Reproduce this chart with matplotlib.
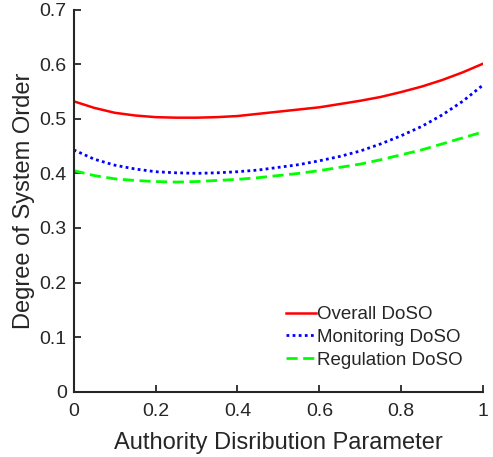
import numpy as np
from matplotlib import pyplot as plt

plt.rcParams['font.family'] = ['Liberation Sans', 'DejaVu Sans']

# authority distribution parameter
alpha = [0.00, 0.05, 0.10, 0.15, 0.20, 0.25, 0.30, 0.35, 0.40, 0.45, 0.50,
         0.55, 0.60, 0.65, 0.70, 0.75, 0.80, 0.85, 0.90, 0.95, 1.00]

# degree of system order
overall = [0.532, 0.520, 0.511, 0.506, 0.503, 0.502, 0.502, 0.503, 0.505, 0.509, 0.513,
           0.517, 0.521, 0.527, 0.533, 0.540, 0.549, 0.559, 0.571, 0.585, 0.601]
monitoring = [0.443, 0.426, 0.415, 0.408, 0.403, 0.401, 0.400, 0.401, 0.403, 0.406, 0.411,
              0.416, 0.423, 0.431, 0.441, 0.454, 0.469, 0.486, 0.507, 0.532, 0.562]
regulation = [0.405, 0.396, 0.390, 0.387, 0.385, 0.384, 0.385, 0.387, 0.389, 0.392, 0.396,
              0.400, 0.405, 0.411, 0.417, 0.425, 0.434, 0.443, 0.454, 0.465, 0.476]

xticks = [0, 0.2, 0.4, 0.6, 0.8, 1]
yticks = [0, 0.1, 0.2, 0.3, 0.4, 0.5, 0.6, 0.7]

txt = '#262626'

fig = plt.figure(figsize=(4.93, 4.57), dpi=100)
ax = fig.add_axes([0.1495, 0.1429, 0.8305, 0.8361])

ax.plot(alpha, overall, color='#ff0000', lw=1.8, ls='-', label='Overall DoSO')
ax.plot(alpha, monitoring, color='#0000ff', lw=2.0, ls=(0, (1, 1.2)), label='Monitoring DoSO')
ax.plot(alpha, regulation, color='#00ff00', lw=2.0, ls=(0, (4, 2)), label='Regulation DoSO')

ax.set_xlim(0, 1)
ax.set_ylim(0, 0.7)
ax.set_xticks(xticks)
ax.set_xticklabels(['0', '0.2', '0.4', '0.6', '0.8', '1'])
ax.set_yticks(yticks)
ax.set_yticklabels(['0', '0.1', '0.2', '0.3', '0.4', '0.5', '0.6', '0.7'])

ax.set_xlabel('Authority Disribution Parameter', fontsize=17, color=txt, labelpad=9)
ax.set_ylabel('Degree of System Order', fontsize=17, color=txt, labelpad=3)

ax.tick_params(axis='both', direction='in', length=5, width=1.3, labelsize=14,
               colors=txt, pad=5)
ax.tick_params(axis='x', pad=8)

for s in ['top', 'right']:
    ax.spines[s].set_visible(False)
for s in ['left', 'bottom']:
    ax.spines[s].set_linewidth(1.5)
    ax.spines[s].set_color(txt)

leg = ax.legend(loc='lower right', frameon=False, fontsize=13.5, handlelength=1.6,
                handletextpad=0.1, labelspacing=0.3, borderpad=0, borderaxespad=0,
                bbox_to_anchor=(0.951, 0.06))
for t in leg.get_texts():
    t.set_color(txt)

fig.savefig('out.png', dpi=100)
